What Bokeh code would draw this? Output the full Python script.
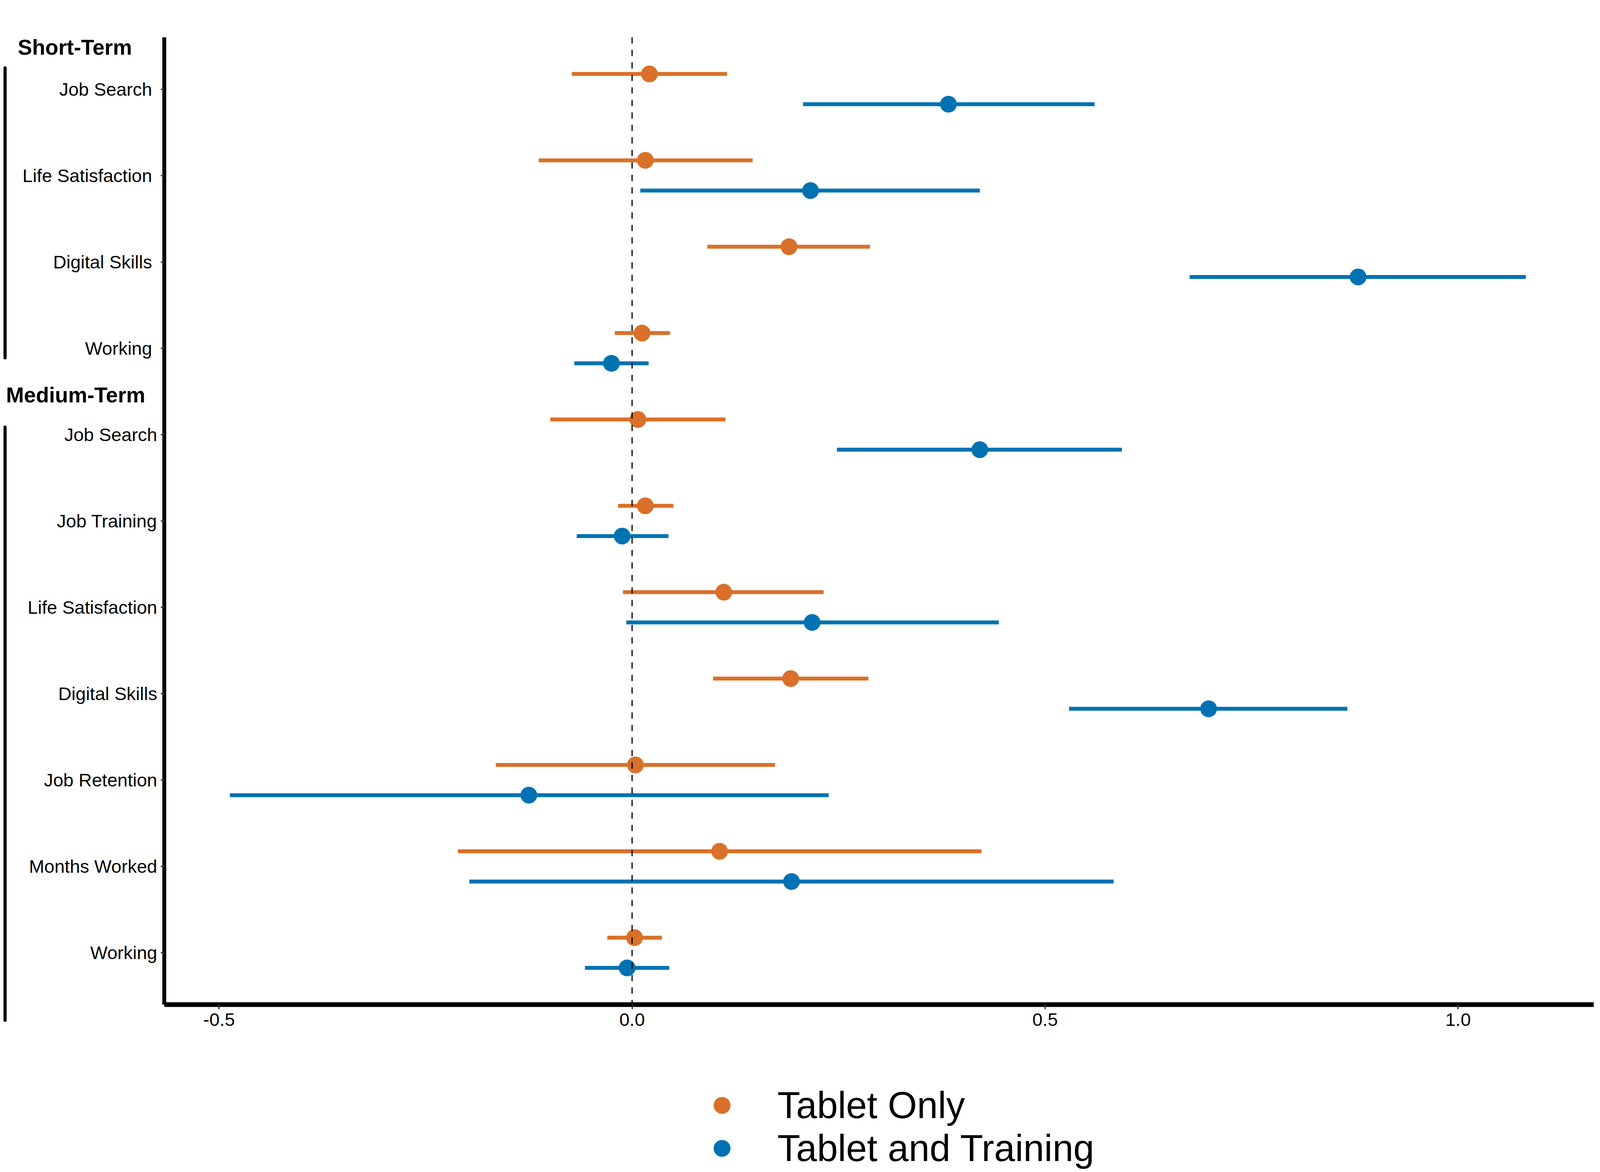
from bokeh.plotting import figure
from bokeh.models import (Range1d, FixedTicker, Label, Arrow, Legend, LegendItem,
                          ColumnDataSource)
from bokeh.embed import file_html
from bokeh.resources import INLINE

# ---------------- data ----------------
groups = ["Short-Term", "Medium-Term"]
outcomes = ["Job Search", "Life Satisfaction", "Digital Skills", "Working",
            "Job Search", "Job Training", "Life Satisfaction", "Digital Skills",
            "Job Retention", "Months Worked", "Working"]
outcome_group = ["Short-Term"] * 4 + ["Medium-Term"] * 7

tablet_est = [0.021, 0.016, 0.190, 0.012, 0.007, 0.016, 0.111, 0.192, 0.004, 0.106, 0.003]
tablet_lo = [-0.073, -0.113, 0.091, -0.021, -0.099, -0.017, -0.011, 0.098, -0.165, -0.211, -0.030]
tablet_hi = [0.115, 0.146, 0.288, 0.046, 0.113, 0.050, 0.232, 0.286, 0.173, 0.423, 0.036]

train_est = [0.383, 0.216, 0.879, -0.025, 0.421, -0.012, 0.218, 0.698, -0.125, 0.193, -0.006]
train_lo = [0.207, 0.010, 0.675, -0.070, 0.248, -0.067, -0.007, 0.529, -0.487, -0.197, -0.057]
train_hi = [0.560, 0.421, 1.082, 0.020, 0.593, 0.044, 0.444, 0.866, 0.238, 0.583, 0.045]

x_ticks = [-0.5, 0.0, 0.5, 1.0]
x_tick_labels = ["-0.5", "0.0", "0.5", "1.0"]
series_names = ["Tablet Only", "Tablet and Training"]
reference_value = [0.0]

ORANGE = "#DA7029"
BLUE = "#0072B2"
FONT = "Liberation Sans"

# panel limits (data units)
X_LO, X_HI = -0.5664, 1.1645
Y_TOP, Y_BOT = -0.6, 10.6

# ---------------- figure ----------------
W, H = 4080, 3056
p = figure(width=W, height=H, output_backend="svg", toolbar_location=None,
           x_range=Range1d(-0.7650, X_HI), y_range=Range1d(12.7936, -1.0293),
           min_border=0, min_border_left=0, min_border_right=0,
           min_border_top=0, min_border_bottom=0)
p.outline_line_color = None
p.xgrid.visible = False
p.ygrid.visible = False
p.background_fill_color = "white"
p.border_fill_color = "white"

rows = list(range(len(outcomes)))
dodge = 0.175
y_tab = [r - dodge for r in rows]
y_tr = [r + dodge for r in rows]

src_tab = ColumnDataSource(dict(y=y_tab, est=tablet_est, lo=tablet_lo, hi=tablet_hi))
src_tr = ColumnDataSource(dict(y=y_tr, est=train_est, lo=train_lo, hi=train_hi))

p.segment(x0="lo", x1="hi", y0="y", y1="y", source=src_tab, line_color=ORANGE,
          line_width=10, line_cap="butt")
r_tab = p.scatter(x="est", y="y", source=src_tab, size=43, fill_color=ORANGE,
                  line_color=None)
p.segment(x0="lo", x1="hi", y0="y", y1="y", source=src_tr, line_color=BLUE,
          line_width=10, line_cap="butt")
r_tr = p.scatter(x="est", y="y", source=src_tr, size=43, fill_color=BLUE,
                 line_color=None)

# reference line at zero, spanning the panel
p.segment(x0=reference_value, x1=reference_value, y0=[Y_TOP], y1=[Y_BOT],
          line_color="black", line_width=3, line_dash="16 16")

# ---------------- axes ----------------
xa = p.xaxis[0]
xa.fixed_location = Y_BOT
xa.bounds = (X_LO, X_HI)
xa.ticker = FixedTicker(ticks=x_ticks)
xa.major_label_overrides = {t: l for t, l in zip(x_ticks, x_tick_labels)}
xa.axis_line_width = 12
xa.axis_line_color = "black"
xa.major_tick_out = 12
xa.major_tick_in = 0
xa.major_tick_line_width = 3
xa.major_tick_line_color = "#333333"
xa.minor_tick_line_color = None
xa.major_label_text_font = FONT
xa.major_label_text_font_size = "47px"
xa.major_label_text_color = "black"
xa.major_label_standoff = 10

ya = p.yaxis[0]
ya.fixed_location = X_LO
ya.bounds = (Y_TOP, Y_BOT)
ya.ticker = FixedTicker(ticks=rows)
ya.major_label_overrides = {
    r: (o + "\u00a0" if g == "Short-Term" else o)
    for r, o, g in zip(rows, outcomes, outcome_group)
}
ya.axis_line_width = 10
ya.axis_line_color = "black"
ya.major_tick_out = 9
ya.major_tick_in = 0
ya.major_tick_line_width = 3
ya.major_tick_line_color = "#333333"
ya.minor_tick_line_color = None
ya.major_label_text_font = FONT
ya.major_label_text_font_size = "47px"
ya.major_label_text_color = "black"
ya.major_label_standoff = 9

# ---------------- group titles and brackets ----------------
p.add_layout(Label(x=-0.7437, y=-0.486, text=groups[0], text_font=FONT,
                   text_font_style="bold", text_font_size="55px",
                   text_baseline="alphabetic", text_align="left", text_color="black"))
p.add_layout(Label(x=-0.7579, y=3.543, text=groups[1], text_font=FONT,
                   text_font_style="bold", text_font_size="55px",
                   text_baseline="alphabetic", text_align="left", text_color="black"))
p.add_layout(Arrow(start=None, end=None, x_start=-0.7591, y_start=-0.2457,
                   x_end=-0.7591, y_end=3.112, line_width=8, line_cap="round",
                   line_color="black"))
p.add_layout(Arrow(start=None, end=None, x_start=-0.7591, y_start=3.913,
                   x_end=-0.7591, y_end=10.782, line_width=8, line_cap="round",
                   line_color="black"))

# ---------------- legend ----------------
legend = Legend(items=[LegendItem(label=series_names[0], renderers=[r_tab]),
                       LegendItem(label=series_names[1], renderers=[r_tr])],
                location=(1794, 62), orientation="vertical",
                glyph_width=108, glyph_height=108, spacing=-18,
                label_standoff=88, padding=0, margin=0,
                border_line_color=None, background_fill_alpha=0,
                label_text_font=FONT, label_text_font_size="96px",
                label_text_color="black")
p.add_layout(legend, "center")

open("out.html", "w").write(file_html(p, INLINE))
